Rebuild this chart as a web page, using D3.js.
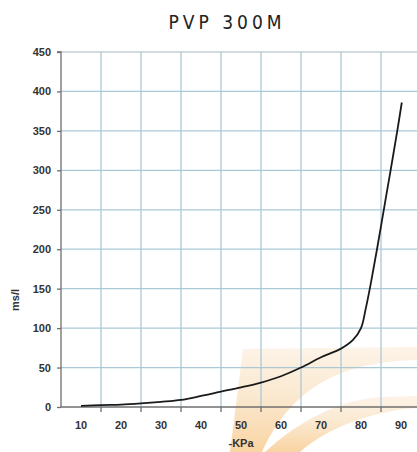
<!DOCTYPE html>
<html>
<head>
<meta charset="utf-8">
<script src="https://cdn.jsdelivr.net/npm/d3@7"></script>
<style>
  html, body { margin: 0; padding: 0; background: #fff; }
  svg { display: block; }
</style>
</head>
<body>
<svg id="chart" width="417" height="452"></svg>
<script>
// ---- data ----
const title = "PVP 300M";
const xLabel = "-KPa";
const yLabel = "ms/l";
const xTickLabels = [10, 20, 30, 40, 50, 60, 70, 80, 90];
const yTickValues = [0, 50, 100, 150, 200, 250, 300, 350, 400, 450];
const pressureKPa = [10, 15, 20, 25, 30, 35, 40, 45, 50, 55, 60, 65, 70, 75, 78, 80, 81.2, 82.5, 84, 85.7, 87.4, 89.1, 90.2];
const flowValues  = [1.5, 2.5, 3, 4.5, 6.5, 9, 14, 19.5, 25, 31, 39, 50, 63, 74, 85, 100, 125, 158, 200, 250, 300, 351, 386];

(function () {
// ---- layout ----
const svg = d3.select("#chart");
const mLeft = 61, mRight = 421, mTop = 52, mBottom = 407;

const x = d3.scaleLinear().domain([5, 95]).range([mLeft, mRight]);
const y = d3.scaleLinear().domain([0, 450]).range([mBottom, mTop]);

// watermark (decorative)
const defs = svg.append("defs");
const grad = defs.append("linearGradient").attr("id", "wm").attr("x1", 0).attr("y1", 1).attr("x2", 0).attr("y2", 0);
grad.append("stop").attr("offset", "0%").attr("stop-color", "#f6b866");
grad.append("stop").attr("offset", "55%").attr("stop-color", "#f9dcb4");
grad.append("stop").attr("offset", "100%").attr("stop-color", "#fcecd8");
const wm = svg.append("g").attr("opacity", 0.6);
wm.append("path")
  .attr("d", "M230,452 L243,349 L417,347 L417,360 C350,362 295,380 262,452 Z")
  .attr("fill", "url(#wm)");
wm.append("path")
  .attr("d", "M265,452 C300,420 340,400 380,397 L417,396 L417,408 C380,410 330,425 300,452 Z")
  .attr("fill", "url(#wm)");

// grid
const gridColor = "#abc8d7";
const xGrid = d3.range(15, 95, 10);
svg.append("g").selectAll("line").data(xGrid).join("line")
  .attr("x1", d => x(d)).attr("x2", d => x(d))
  .attr("y1", mTop).attr("y2", mBottom)
  .attr("stroke", gridColor).attr("stroke-width", 1.3);
svg.append("g").selectAll("line").data(yTickValues.filter(v => v > 0)).join("line")
  .attr("x1", mLeft).attr("x2", mRight)
  .attr("y1", d => y(d)).attr("y2", d => y(d))
  .attr("stroke", d => d === 450 ? "#c4cfd4" : gridColor).attr("stroke-width", 1.3);

// y axis
const yAxis = d3.axisLeft(y).tickValues(yTickValues).tickSize(4).tickPadding(6);
const gy = svg.append("g").attr("transform", `translate(${mLeft},0)`).call(yAxis);
gy.select(".domain").attr("stroke", "#6f6f6f").attr("stroke-width", 1.3).attr("d", `M-4,${mTop}H0V${mBottom}`);
gy.selectAll(".tick line").attr("stroke", "#6f6f6f").attr("stroke-width", 1.3);
gy.selectAll(".tick text")
  .attr("font-family", "Liberation Sans, Arial, sans-serif")
  .attr("font-size", 11).attr("font-weight", "bold").attr("fill", "#333");

// x axis (tick marks at grid lines, labels at band centres)
const gx = svg.append("g").attr("transform", `translate(0,${mBottom})`);
gx.append("line").attr("x1", mLeft).attr("x2", mRight).attr("stroke", "#6f6f6f").attr("stroke-width", 1.5);
gx.selectAll("line.tk").data(xGrid).join("line").attr("class", "tk")
  .attr("x1", d => x(d)).attr("x2", d => x(d)).attr("y1", 0).attr("y2", 5)
  .attr("stroke", "#6f6f6f").attr("stroke-width", 1.3);
gx.selectAll("text").data(xTickLabels).join("text")
  .attr("x", d => x(d)).attr("y", 22)
  .attr("text-anchor", "middle")
  .attr("font-family", "Liberation Sans, Arial, sans-serif")
  .attr("font-size", 11).attr("font-weight", "bold").attr("fill", "#333")
  .text(d => d);

// axis labels
svg.append("text").attr("x", 241).attr("y", 447).attr("text-anchor", "middle")
  .attr("font-family", "Liberation Sans, Arial, sans-serif")
  .attr("font-size", 11).attr("font-weight", "bold").attr("fill", "#333").text(xLabel);
svg.append("text").attr("transform", "translate(19,300) rotate(-90)").attr("text-anchor", "middle")
  .attr("font-family", "Liberation Sans, Arial, sans-serif")
  .attr("font-size", 11).attr("font-weight", "bold").attr("fill", "#333").text(yLabel);

// title
svg.append("text").attr("x", 227).attr("y", 29).attr("text-anchor", "middle")
  .attr("font-family", "Liberation Sans Narrow, DejaVu Sans Condensed, sans-serif")
  .attr("font-size", 19).attr("letter-spacing", 4).attr("fill", "#222").text(title);

// curve
const line = d3.line().x((d, i) => x(pressureKPa[i])).y(d => y(d)).curve(d3.curveCatmullRom.alpha(0.5));
svg.append("path").datum(flowValues)
  .attr("d", line).attr("fill", "none")
  .attr("stroke", "#1a1a1a").attr("stroke-width", 1.8);
})();
</script>
</body>
</html>
